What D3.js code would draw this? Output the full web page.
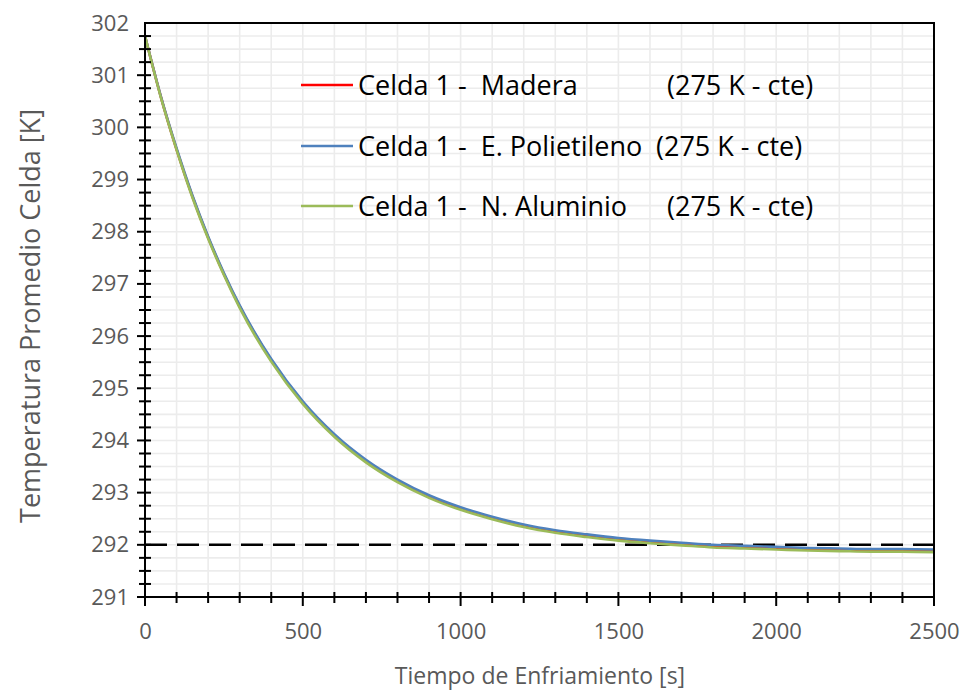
<!DOCTYPE html>
<html>
<head>
<meta charset="utf-8">
<script src="https://cdn.jsdelivr.net/npm/d3@7"></script>
<style>
  html, body { margin: 0; padding: 0; background: #fff; }
  svg { display: block; }
  text { font-family: "Open Sans", "Liberation Sans", sans-serif; }
</style>
</head>
<body>
<svg id="chart" width="964" height="691"></svg>
<script>
// Cooling time [s]
const tiempo = [0, 50, 100, 150, 200, 250, 300, 400, 500, 600, 700, 800, 900, 1000,
  1100, 1200, 1300, 1400, 1500, 1600, 1700, 1800, 1900, 2000, 2100, 2200, 2300, 2400, 2500];

// Mean cell temperature [K] for each insulation material
const madera = [301.75, 300.59, 299.58, 298.68, 297.89, 297.19, 296.57, 295.54, 294.73, 294.10,
  293.61, 293.23, 292.93, 292.70, 292.52, 292.37, 292.26, 292.18, 292.11, 292.06, 292.02,
  291.98, 291.96, 291.94, 291.92, 291.91, 291.90, 291.90, 291.89];
const polietileno = [301.75, 300.60, 299.60, 298.70, 297.91, 297.21, 296.59, 295.56, 294.75, 294.12,
  293.63, 293.25, 292.95, 292.72, 292.54, 292.39, 292.28, 292.20, 292.13, 292.08, 292.04,
  292.00, 291.98, 291.96, 291.94, 291.93, 291.92, 291.92, 291.91];
const aluminio = [301.75, 300.58, 299.57, 298.66, 297.87, 297.17, 296.54, 295.51, 294.70, 294.07,
  293.58, 293.20, 292.90, 292.67, 292.49, 292.34, 292.23, 292.15, 292.08, 292.03, 291.99,
  291.95, 291.93, 291.91, 291.89, 291.88, 291.87, 291.87, 291.86];

const seriesNames = ["Celda 1 -  Madera", "Celda 1 -  E. Polietileno", "Celda 1 -  N. Aluminio"];
const seriesNote = "(275 K - cte)";
const seriesColors = ["#ff0000", "#4f81bd", "#9bbb59"];

// Reference temperature marked with a dashed line
const referencia = 292;

const xTicks = [0, 500, 1000, 1500, 2000, 2500];
const yTicks = [291, 292, 293, 294, 295, 296, 297, 298, 299, 300, 301, 302];

const xTitle = "Tiempo de Enfriamiento [s]";
const yTitle = "Temperatura Promedio Celda [K]";

// ---- layout ----
const svg = d3.select("#chart");
const L = 145, R = 934, T = 23, B = 597;

const x = d3.scaleLinear().domain([0, 2500]).range([L, R]);
const y = d3.scaleLinear().domain([291, 302]).range([B, T]);

// grid
const grid = svg.append("g").attr("stroke", "#ececec").attr("stroke-width", 1.6);
grid.selectAll("line.v").data(d3.range(100, 2500, 100)).join("line")
  .attr("x1", d => x(d)).attr("x2", d => x(d)).attr("y1", T).attr("y2", B);
grid.selectAll("line.h").data(d3.range(291.25, 302, 0.25)).join("line")
  .attr("y1", d => y(d)).attr("y2", d => y(d)).attr("x1", L).attr("x2", R);

// dashed reference line
svg.append("line")
  .attr("x1", L).attr("x2", R).attr("y1", y(referencia)).attr("y2", y(referencia))
  .attr("stroke", "#000").attr("stroke-width", 2.5).attr("stroke-dasharray", "22,10");

// series
const data = [madera, polietileno, aluminio];
const line = d3.line().x((d, i) => x(tiempo[i])).y(d => y(d)).curve(d3.curveMonotoneX);
[0, 1, 2].forEach(k => {
  svg.append("path").datum(data[k])
    .attr("d", line).attr("fill", "none")
    .attr("stroke", seriesColors[k]).attr("stroke-width", 2.6);
});

// frame
svg.append("rect").attr("x", L).attr("y", T).attr("width", R - L).attr("height", B - T)
  .attr("fill", "none").attr("stroke", "#000").attr("stroke-width", 2);

// x axis
const xAxis = svg.append("g").attr("transform", `translate(0,${B})`)
  .call(d3.axisBottom(x).tickValues(xTicks).tickSize(0).tickPadding(26).tickFormat(d3.format("d")));
xAxis.select(".domain").remove();
xAxis.selectAll("text").attr("font-size", 22).attr("fill", "#595959")
  .attr("font-family", "'Open Sans', sans-serif");
svg.append("g").selectAll("line").data(d3.range(0, 2501, 100)).join("line")
  .attr("x1", d => x(d)).attr("x2", d => x(d))
  .attr("y1", B - 5).attr("y2", d => B + (d % 500 === 0 ? 9 : 6))
  .attr("stroke", "#000").attr("stroke-width", 2);

// y axis
const yAxis = svg.append("g").attr("transform", `translate(${L},0)`)
  .call(d3.axisLeft(y).tickValues(yTicks).tickSize(0).tickPadding(16).tickFormat(d3.format("d")));
yAxis.select(".domain").remove();
yAxis.selectAll("text").attr("font-size", 22).attr("fill", "#595959")
  .attr("font-family", "'Open Sans', sans-serif");
svg.append("g").selectAll("line").data(d3.range(0, 44)).join("line")
  .attr("y1", d => y(291 + d * 0.25)).attr("y2", d => y(291 + d * 0.25))
  .attr("x1", d => L - (d % 4 === 0 ? 8 : 6)).attr("x2", L + 6)
  .attr("stroke", "#000").attr("stroke-width", 2);

// axis titles
svg.append("text").attr("x", 540).attr("y", 684).attr("text-anchor", "middle")
  .attr("font-size", 23).attr("fill", "#595959").text(xTitle);
svg.append("text").attr("transform", "translate(40,316) rotate(-90)").attr("text-anchor", "middle")
  .attr("font-size", 27).attr("fill", "#595959").text(yTitle);

// legend
const legend = svg.append("g");
const legendY = [85, 146, 206];
const noteX = [667, 656, 667];
seriesNames.forEach((name, k) => {
  legend.append("line").attr("x1", 301).attr("x2", 353)
    .attr("y1", legendY[k]).attr("y2", legendY[k])
    .attr("stroke", seriesColors[k]).attr("stroke-width", 2.6);
  legend.append("text").attr("x", 358).attr("y", legendY[k] + 10)
    .attr("font-size", 27).attr("fill", "#000").style("white-space", "pre").text(name);
  legend.append("text").attr("x", noteX[k]).attr("y", legendY[k] + 10)
    .attr("font-size", 27).attr("fill", "#000").text(seriesNote);
});
</script>
</body>
</html>
